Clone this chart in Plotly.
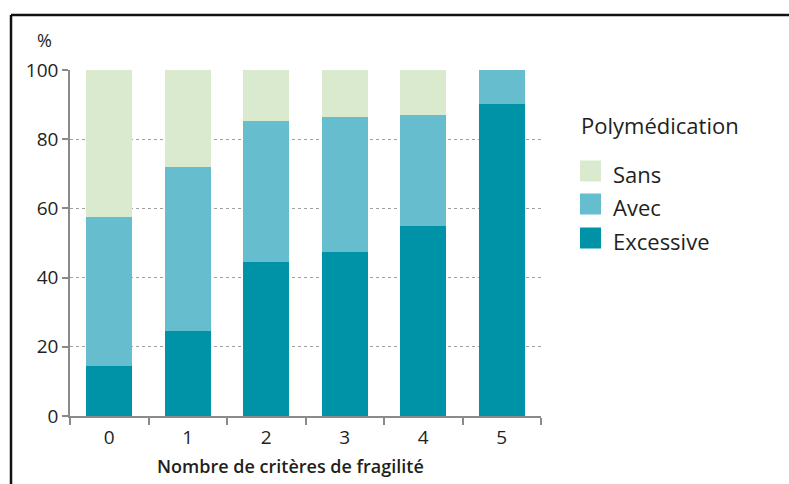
import plotly.graph_objects as go

categories = ["0", "1", "2", "3", "4", "5"]
excessive = [14.5, 24.6, 44.6, 47.5, 55.0, 90.2]
avec = [43.0, 47.4, 40.7, 39.0, 32.0, 9.8]
sans = [42.5, 28.0, 14.7, 13.5, 13.0, 0.0]
y_ticks = [0, 20, 40, 60, 80, 100]
legend_title = "Polymédication"

W, H = 789, 484
L, R, T, B = 70, 248, 70, 68
pw, ph = W - L - R, H - T - B

def px(x):
    return (x - L) / pw

def py(y):
    return (H - B - y) / ph

font = "Open Sans, Noto Sans, sans-serif"
tc = "#231f20"

series = [
    ("Excessive", excessive, "#0093a8"),
    ("Avec", avec, "#66bdcd"),
    ("Sans", sans, "#daeacf"),
]

fig = go.Figure()
for name, vals, col in series:
    fig.add_trace(go.Bar(x=categories, y=vals, name=name, marker_color=col,
                         marker_line_width=0, showlegend=False))

annotations = [
    dict(text="%", x=px(44), y=py(40), xref="paper", yref="paper",
         showarrow=False, font=dict(size=18, color=tc), xanchor="center", yanchor="middle"),
    dict(text="Nombre de critères de fragilité", x=px(290), y=py(466), xref="paper", yref="paper",
         showarrow=False, font=dict(size=18, color=tc, weight=600), xanchor="center", yanchor="middle"),
    dict(text=legend_title, x=px(579), y=py(125), xref="paper", yref="paper",
         showarrow=False, font=dict(size=22, color=tc), xanchor="left", yanchor="middle"),
]
shapes = [
    dict(type="line", xref="paper", yref="paper", x0=px(11), x1=px(800), y0=py(15), y1=py(15),
         line=dict(color="#111", width=2.5)),
    dict(type="line", xref="paper", yref="paper", x0=px(11), x1=px(11), y0=py(15), y1=py(500),
         line=dict(color="#111", width=2.5)),
]
# manual legend (top to bottom: Sans, Avec, Excessive)
leg_centers = [171, 204, 238]
for (name, vals, col), cy in zip(reversed(series), leg_centers):
    shapes.append(dict(type="rect", xref="paper", yref="paper",
                       x0=px(580), x1=px(601), y0=py(cy - 10.5), y1=py(cy + 10.5),
                       fillcolor=col, line=dict(width=0)))
    annotations.append(dict(text=name, x=px(611), y=py(cy + 3), xref="paper", yref="paper",
                            showarrow=False, font=dict(size=22, color=tc),
                            xanchor="left", yanchor="middle"))

fig.update_layout(
    width=W, height=H,
    margin=dict(l=L, r=R, t=T, b=B, pad=0),
    barmode="stack", bargap=0.415,
    plot_bgcolor="white", paper_bgcolor="white",
    font=dict(family=font, size=19, color=tc),
    showlegend=False,
    xaxis=dict(
        showline=True, linecolor="#8a8a8a", linewidth=1.5,
        ticks="outside", tickson="boundaries", ticklen=7, tickcolor="#8a8a8a", tickwidth=1.5,
        showgrid=False, tickfont=dict(size=19, color=tc), ticklabelstandoff=3,
        range=[-0.5, 5.5],
    ),
    yaxis=dict(
        range=[0, 100], tickvals=y_ticks,
        showline=True, linecolor="#8a8a8a", linewidth=1.5,
        ticks="outside", ticklen=6, tickcolor="#8a8a8a", tickwidth=1.5,
        showgrid=True, gridcolor="#a0a0a0", gridwidth=1, griddash="3px,3px",
        zeroline=False, tickfont=dict(size=19, color=tc),
    ),
    annotations=annotations,
    shapes=shapes,
)

fig.write_html("out.html", config={"displayModeBar": False},
               post_script="document.body.style.margin='0';document.body.style.overflow='hidden';")
